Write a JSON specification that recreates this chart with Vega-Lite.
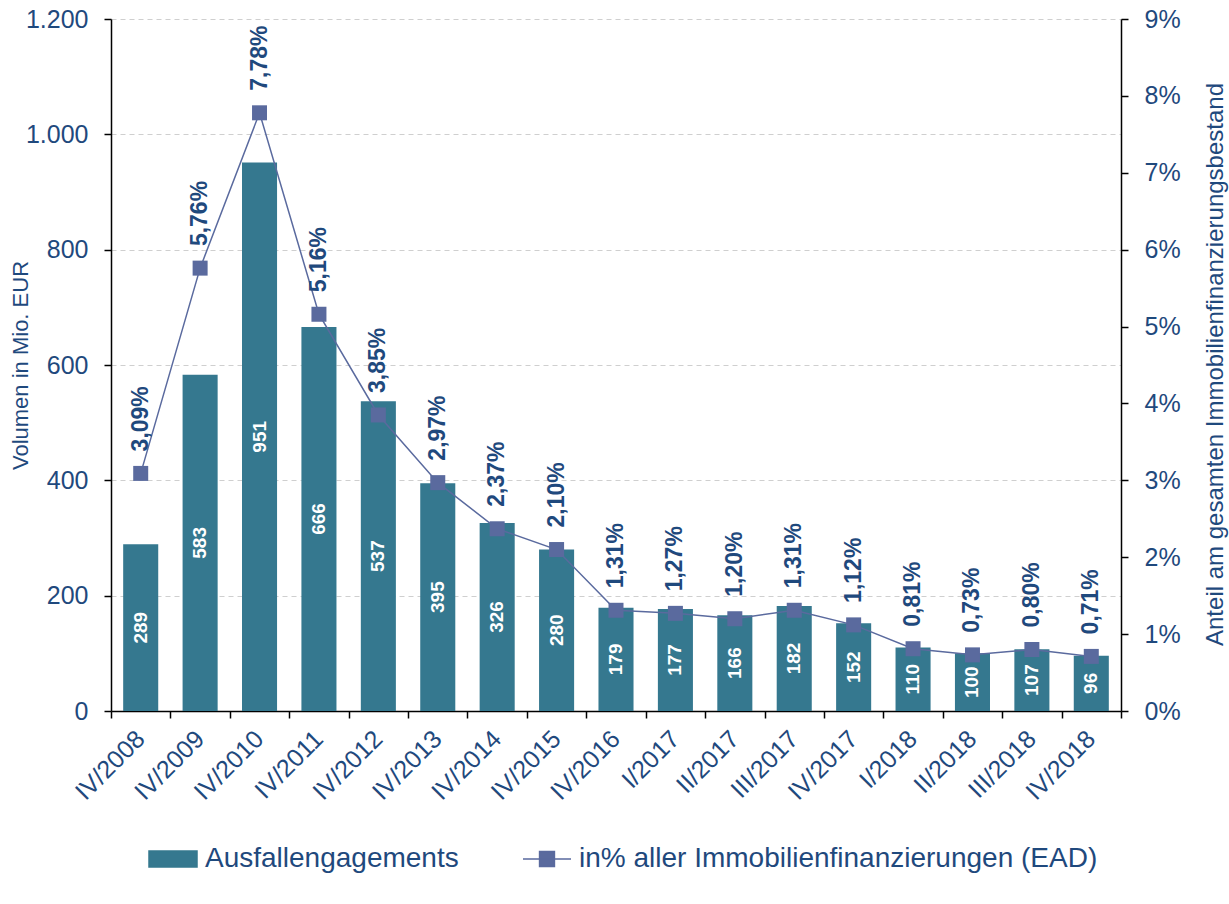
{
  "$schema": "https://vega.github.io/schema/vega-lite/v6.json",
  "width": 1010,
  "height": 692,
  "autosize": {"type": "none"},
  "padding": {"left": 111, "top": 19, "right": 108, "bottom": 193},
  "config": {
    "font": "Liberation Sans",
    "view": {"stroke": null},
    "locale": {"number": {"decimal": ",", "thousands": ".", "grouping": [3], "currency": ["", " €"]}}
  },
  "data": {
    "values": [
      {"q": "IV/2008", "vol": 289, "pct": 0.0309},
      {"q": "IV/2009", "vol": 583, "pct": 0.0576},
      {"q": "IV/2010", "vol": 951, "pct": 0.0778},
      {"q": "IV/2011", "vol": 666, "pct": 0.0516},
      {"q": "IV/2012", "vol": 537, "pct": 0.0385},
      {"q": "IV/2013", "vol": 395, "pct": 0.0297},
      {"q": "IV/2014", "vol": 326, "pct": 0.0237},
      {"q": "IV/2015", "vol": 280, "pct": 0.0210},
      {"q": "IV/2016", "vol": 179, "pct": 0.0131},
      {"q": "I/2017", "vol": 177, "pct": 0.0127},
      {"q": "II/2017", "vol": 166, "pct": 0.0120},
      {"q": "III/2017", "vol": 182, "pct": 0.0131},
      {"q": "IV/2017", "vol": 152, "pct": 0.0112},
      {"q": "I/2018", "vol": 110, "pct": 0.0081},
      {"q": "II/2018", "vol": 100, "pct": 0.0073},
      {"q": "III/2018", "vol": 107, "pct": 0.0080},
      {"q": "IV/2018", "vol": 96, "pct": 0.0071}
    ]
  },
  "encoding": {
    "x": {
      "field": "q", "type": "nominal", "sort": null,
      "scale": {"paddingInner": 0, "paddingOuter": 0},
      "axis": {
        "title": null, "labelAngle": -45, "labelAlign": "right", "labelBaseline": "top",
        "labelFontSize": 25, "labelColor": "#1f497d", "labelPadding": 8, "labelOffset": -9,
        "domainColor": "#000000", "domainWidth": 1.5, "tickColor": "#000000", "tickWidth": 1.5,
        "tickSize": 7, "tickBand": "extent", "grid": false
      }
    }
  },
  "layer": [
    {
      "mark": {"type": "bar", "width": {"band": 0.59}},
      "encoding": {
        "y": {
          "field": "vol", "type": "quantitative",
          "scale": {"domain": [0, 1200]},
          "axis": {
            "orient": "left", "values": [0, 200, 400, 600, 800, 1000, 1200], "format": ",d",
            "title": "Volumen in Mio. EUR", "titleFontSize": 22, "titleFontWeight": "normal",
            "titleColor": "#1f497d", "titleAngle": 270, "titleX": -91, "titleY": 346,
            "titleAlign": "center", "titleBaseline": "middle",
            "labelFontSize": 25, "labelColor": "#1f497d", "labelPadding": 16,
            "domainColor": "#000000", "domainWidth": 1.5, "tickColor": "#000000", "tickWidth": 1.5, "tickSize": 7,
            "grid": true, "gridColor": "#cfcfcf", "gridDash": [5, 4], "gridWidth": 1
          }
        },
        "color": {
          "datum": "Ausfallengagements",
          "scale": {
            "domain": ["Ausfallengagements", "in% aller Immobilienfinanzierungen (EAD)"],
            "range": ["#35788f", "#5a6a9e"]
          },
          "legend": {
            "orient": "none", "legendX": 37, "legendY": 815, "direction": "horizontal", "title": null,
            "labelFontSize": 28, "labelColor": "#1f497d", "labelLimit": 1000, "labelOffset": 7,
            "symbolSize": 2304, "columnPadding": 61,
            "encode": {
              "symbols": {
                "update": {
                  "shape": {"signal": "datum.value === 'Ausfallengagements' ? 'M-1,-0.33H1V0.33H-1Z' : 'M-1,0H1M-0.31,-0.31H0.31V0.31H-0.31Z'"},
                  "fill": {"signal": "datum.value === 'Ausfallengagements' ? '#35788f' : '#5a6a9e'"},
                  "stroke": {"signal": "datum.value === 'Ausfallengagements' ? '#35788f' : '#5a6a9e'"},
                  "strokeWidth": {"value": 1.5},
                  "opacity": {"value": 1},
                  "fillOpacity": {"value": 1},
                  "strokeOpacity": {"value": 1}
                }
              }
            }
          }
        }
      }
    },
    {
      "mark": {"type": "text", "angle": 270, "align": "center", "baseline": "middle", "fontWeight": "bold", "fontSize": 19, "color": "#ffffff"},
      "encoding": {
        "y": {"field": "vol", "type": "quantitative", "scale": {"domain": [0, 2400]}, "axis": null},
        "text": {"field": "vol", "type": "quantitative", "format": "d"}
      }
    },
    {
      "encoding": {
        "y": {
          "field": "pct", "type": "quantitative",
          "scale": {"domain": [0, 0.09]},
          "axis": {
            "orient": "right", "values": [0, 0.01, 0.02, 0.03, 0.04, 0.05, 0.06, 0.07, 0.08, 0.09], "format": ".0%",
            "title": "Anteil am gesamten Immobilienfinanzierungsbestand", "titleFontSize": 24, "titleFontWeight": "normal",
            "titleColor": "#1f497d", "titleAngle": 270, "titleX": 94, "titleY": 345,
            "titleAlign": "center", "titleBaseline": "middle",
            "labelFontSize": 25, "labelColor": "#1f497d", "labelPadding": 16,
            "domainColor": "#000000", "domainWidth": 1.5, "tickColor": "#000000", "tickWidth": 1.5, "tickSize": 7,
            "grid": false
          }
        }
      },
      "layer": [
        {
          "mark": {"type": "line", "strokeWidth": 1.5},
          "encoding": {
            "color": {"datum": "in% aller Immobilienfinanzierungen (EAD)"}
          }
        },
        {
          "mark": {"type": "point", "shape": "square", "filled": true, "size": 225, "color": "#5a6a9e", "opacity": 1}
        },
        {
          "mark": {"type": "text", "angle": 270, "align": "left", "baseline": "middle", "dx": 22, "fontWeight": "bold", "fontSize": 23, "color": "#1f497d"},
          "encoding": {
            "text": {"field": "pct", "type": "quantitative", "format": ".2%"}
          }
        }
      ]
    }
  ],
  "resolve": {"scale": {"y": "independent"}}
}
